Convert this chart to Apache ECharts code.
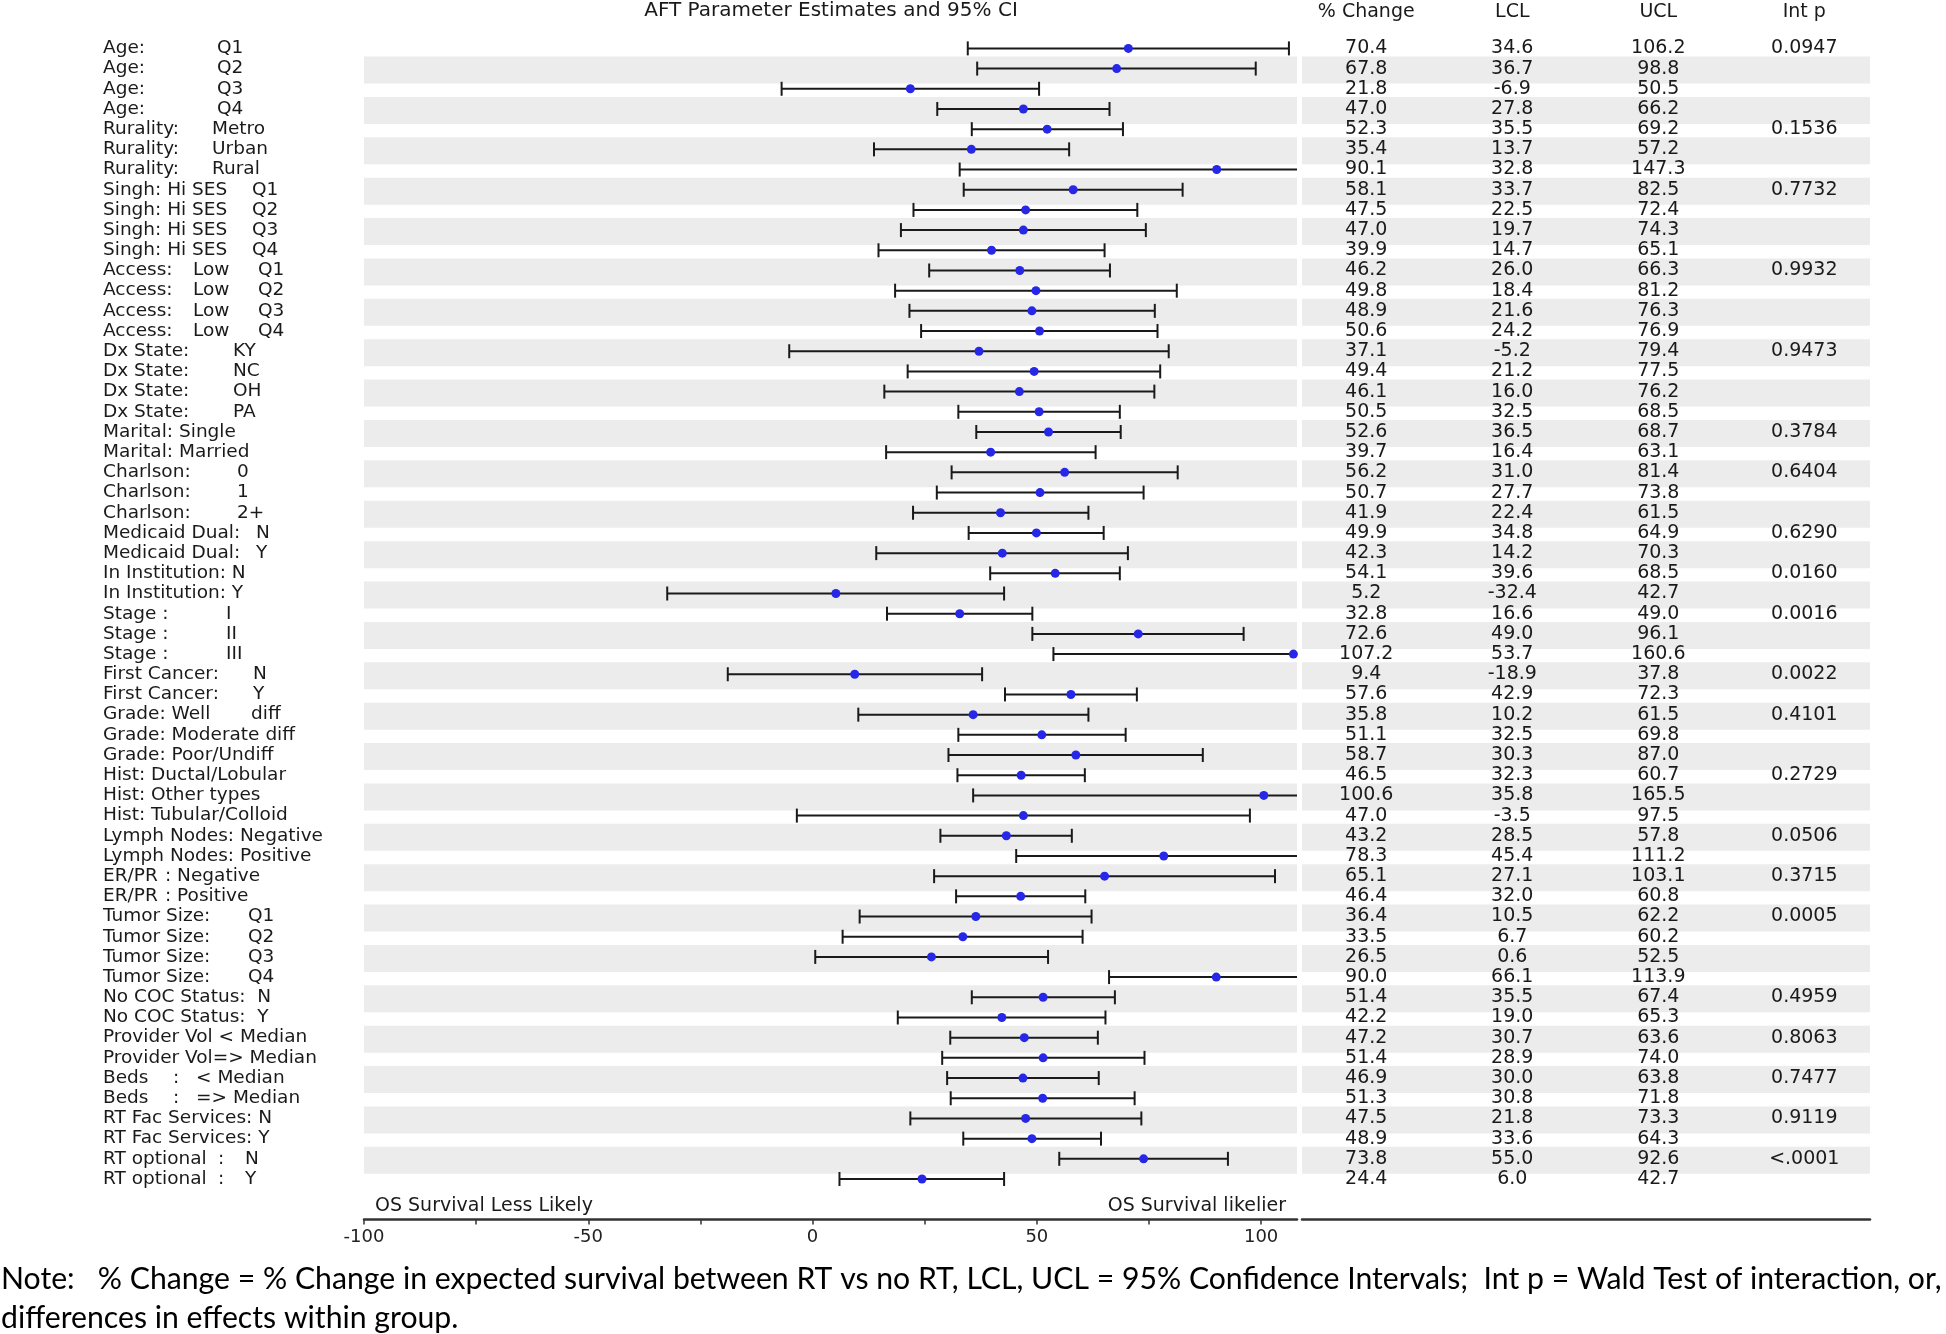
<!DOCTYPE html>
<html>
<head>
<meta charset="utf-8">
<script src="https://cdn.jsdelivr.net/npm/echarts@6/dist/echarts.min.js"></script>
<style>
  html, body { margin: 0; padding: 0; background: #fff; }
  #chart { width: 1946px; height: 1334px; }
</style>
</head>
<body>
<div id="chart"></div>
<script>
// row labels, '\t' marks a padded column in the original SAS label
const labels = [
  'Age:\tQ1', 'Age:\tQ2', 'Age:\tQ3', 'Age:\tQ4',
  'Rurality:\tMetro', 'Rurality:\tUrban', 'Rurality:\tRural',
  'Singh: Hi SES\tQ1', 'Singh: Hi SES\tQ2', 'Singh: Hi SES\tQ3', 'Singh: Hi SES\tQ4',
  'Access:\tLow\tQ1', 'Access:\tLow\tQ2', 'Access:\tLow\tQ3', 'Access:\tLow\tQ4',
  'Dx State:\tKY', 'Dx State:\tNC', 'Dx State:\tOH', 'Dx State:\tPA',
  'Marital:\tSingle', 'Marital:\tMarried',
  'Charlson:\t0', 'Charlson:\t1', 'Charlson:\t2+',
  'Medicaid Dual:\tN', 'Medicaid Dual:\tY',
  'In Institution: N', 'In Institution: Y',
  'Stage :\tI', 'Stage :\tII', 'Stage :\tIII',
  'First Cancer:\tN', 'First Cancer:\tY',
  'Grade: Well\tdiff', 'Grade: Moderate diff', 'Grade: Poor/Undiff',
  'Hist: Ductal/Lobular', 'Hist: Other types', 'Hist: Tubular/Colloid',
  'Lymph Nodes: Negative', 'Lymph Nodes: Positive',
  'ER/PR\t: Negative', 'ER/PR\t: Positive',
  'Tumor Size:\tQ1', 'Tumor Size:\tQ2', 'Tumor Size:\tQ3', 'Tumor Size:\tQ4',
  'No COC Status:  N', 'No COC Status:  Y',
  'Provider Vol < Median', 'Provider Vol=> Median',
  'Beds\t:\t< Median', 'Beds\t:\t=> Median',
  'RT Fac Services: N', 'RT Fac Services: Y',
  'RT optional\t:\tN', 'RT optional\t:\tY'
];

const pctChange = [70.4, 67.8, 21.8, 47.0, 52.3, 35.4, 90.1, 58.1, 47.5, 47.0, 39.9,
  46.2, 49.8, 48.9, 50.6, 37.1, 49.4, 46.1, 50.5, 52.6, 39.7, 56.2, 50.7, 41.9,
  49.9, 42.3, 54.1, 5.2, 32.8, 72.6, 107.2, 9.4, 57.6, 35.8, 51.1, 58.7,
  46.5, 100.6, 47.0, 43.2, 78.3, 65.1, 46.4, 36.4, 33.5, 26.5, 90.0,
  51.4, 42.2, 47.2, 51.4, 46.9, 51.3, 47.5, 48.9, 73.8, 24.4];

const lcl = [34.6, 36.7, -6.9, 27.8, 35.5, 13.7, 32.8, 33.7, 22.5, 19.7, 14.7,
  26.0, 18.4, 21.6, 24.2, -5.2, 21.2, 16.0, 32.5, 36.5, 16.4, 31.0, 27.7, 22.4,
  34.8, 14.2, 39.6, -32.4, 16.6, 49.0, 53.7, -18.9, 42.9, 10.2, 32.5, 30.3,
  32.3, 35.8, -3.5, 28.5, 45.4, 27.1, 32.0, 10.5, 6.7, 0.6, 66.1,
  35.5, 19.0, 30.7, 28.9, 30.0, 30.8, 21.8, 33.6, 55.0, 6.0];

const ucl = [106.2, 98.8, 50.5, 66.2, 69.2, 57.2, 147.3, 82.5, 72.4, 74.3, 65.1,
  66.3, 81.2, 76.3, 76.9, 79.4, 77.5, 76.2, 68.5, 68.7, 63.1, 81.4, 73.8, 61.5,
  64.9, 70.3, 68.5, 42.7, 49.0, 96.1, 160.6, 37.8, 72.3, 61.5, 69.8, 87.0,
  60.7, 165.5, 97.5, 57.8, 111.2, 103.1, 60.8, 62.2, 60.2, 52.5, 113.9,
  67.4, 65.3, 63.6, 74.0, 63.8, 71.8, 73.3, 64.3, 92.6, 42.7];

const intP = ['0.0947', '', '', '', '0.1536', '', '', '0.7732', '', '', '',
  '0.9932', '', '', '', '0.9473', '', '', '', '0.3784', '', '0.6404', '', '',
  '0.6290', '', '0.0160', '', '0.0016', '', '', '0.0022', '', '0.4101', '', '',
  '0.2729', '', '', '0.0506', '', '0.3715', '', '0.0005', '', '', '',
  '0.4959', '', '0.8063', '', '0.7477', '', '0.9119', '', '<.0001', ''];

const headers = ['% Change', 'LCL', 'UCL', 'Int p'];
const tickValues = [-100, -75, -50, -25, 0, 25, 50, 75, 100];
const tickLabels = [-100, -50, 0, 50, 100];

// column stops (px from label start) for the padded labels
const tabStops = {
  'Age:': [114], 'Rurality:': [109], 'Singh: Hi SES': [149], 'Access:': [90, 155],
  'Dx State:': [130], 'Marital:': [76], 'Charlson:': [134], 'Medicaid Dual:': [153],
  'Stage :': [123], 'First Cancer:': [150], 'Grade: Well': [148], 'ER/PR': [62],
  'Tumor Size:': [145], 'Beds': [70, 93], 'RT optional': [115, 142]
};

const FONT = 'DejaVu Sans';
const TXT = '#1a1a1a';
const LBL = 18.5;
const NUM = 19;
const rich = { t: { fontFamily: FONT, fontSize: LBL, color: TXT } };

function fmtLabel(s) {
  const parts = s.split('\t');
  if (parts.length === 1) return '{t|' + s + '}';
  const stops = tabStops[parts[0]];
  let out = '', prev = 0;
  for (let i = 0; i < parts.length - 1; i++) {
    const w = stops[i] - prev;
    const key = 'w' + w;
    if (!rich[key]) rich[key] = { width: w, fontFamily: FONT, fontSize: LBL, color: TXT };
    out += '{' + key + '|' + parts[i] + '}';
    prev = stops[i];
  }
  return out + '{t|' + parts[parts.length - 1] + '}';
}
labels.forEach(fmtLabel);

const rows = labels.map((l, i) => i);
const bandRows = rows.filter(i => i % 2 === 1);

// table cells: [column, row, text]
const cellCol = [], cellRow = [], cellText = [];
rows.forEach(i => {
  [pctChange[i].toFixed(1), lcl[i].toFixed(1), ucl[i].toFixed(1), intP[i]].forEach((t, c) => {
    if (!t) return;
    cellCol.push(c); cellRow.push(i); cellText.push(t);
  });
});

function bandItem(params, api) {
  const cs = params.coordSys;
  const y = api.coord([0, api.value(1)])[1];
  return {
    type: 'rect', silent: true,
    shape: { x: cs.x, y: y - 12, width: cs.width, height: 27 },
    style: { fill: '#ececec' }
  };
}

function ciItem(params, api) {
  const cs = params.coordSys;
  const r = api.value(3);
  const y = api.coord([0, r])[1];
  let x0 = api.coord([api.value(1), r])[0];
  let x1 = api.coord([api.value(2), r])[0];
  const left = cs.x, right = cs.x + cs.width;
  const cap0 = x0 >= left, cap1 = x1 <= right;
  x0 = Math.max(x0, left);
  x1 = Math.min(x1, right);
  const st = { stroke: '#1a1a1a', lineWidth: 2 };
  const kids = [{ type: 'line', shape: { x1: x0, y1: y, x2: x1, y2: y }, style: st }];
  if (cap0) kids.push({ type: 'line', shape: { x1: x0, y1: y - 7, x2: x0, y2: y + 7 }, style: st });
  if (cap1) kids.push({ type: 'line', shape: { x1: x1, y1: y - 7, x2: x1, y2: y + 7 }, style: st });
  return { type: 'group', children: kids };
}

function cellItem(params, api) {
  const p = api.coord([api.value(0), api.value(1)]);
  return {
    type: 'text', x: p[0], y: p[1],
    style: {
      text: cellText[params.dataIndex], fill: TXT,
      fontFamily: FONT, fontSize: NUM, align: 'center', verticalAlign: 'middle'
    }
  };
}

const chart = echarts.init(document.getElementById('chart'));

const txt = (size, extra) => Object.assign({ fontFamily: FONT, fontSize: size, fill: TXT }, extra);

const option = {
  animation: false,
  backgroundColor: '#fff',
  grid: [
    { left: 364, top: 38.3, width: 933, height: 1150.8, outerBoundsMode: 'none' },
    { left: 1302, top: 38.3, width: 568, height: 1150.8, outerBoundsMode: 'none' }
  ],
  xAxis: [
    {
      gridIndex: 0, type: 'value', min: -100, max: 108, position: 'bottom', offset: 30.5,
      axisLine: { show: true, onZero: false, lineStyle: { color: '#333', width: 2.5 } },
      axisTick: { show: true, customValues: tickValues, length: 5, lineStyle: { color: '#333', width: 1.5 } },
      axisLabel: { customValues: tickLabels, margin: 9, fontFamily: FONT, fontSize: 18, color: '#222' },
      splitLine: { show: false }
    },
    {
      gridIndex: 1, type: 'value', min: -0.44, max: 3.45, position: 'top',
      axisLine: { show: false }, axisTick: { show: false }, splitLine: { show: false },
      axisLabel: {
        customValues: headers.map((h, i) => i), formatter: v => headers[Math.round(v)],
        margin: 17, fontFamily: FONT, fontSize: NUM, color: TXT
      }
    },
    {
      gridIndex: 1, type: 'value', min: -0.44, max: 3.45, position: 'bottom', offset: 30.5,
      axisLine: { show: true, onZero: false, lineStyle: { color: '#333', width: 2.5 } },
      axisTick: { show: false }, axisLabel: { show: false }, splitLine: { show: false }
    }
  ],
  yAxis: [
    {
      gridIndex: 0, type: 'category', data: labels, inverse: true,
      axisLine: { show: false }, axisTick: { show: false }, splitLine: { show: false },
      axisLabel: { interval: 0, align: 'left', margin: 261, formatter: fmtLabel, rich: rich }
    },
    { gridIndex: 1, type: 'category', data: labels, inverse: true, show: false }
  ],
  series: [
    {
      type: 'custom', xAxisIndex: 0, yAxisIndex: 0, silent: true, z: 1,
      data: bandRows.map(i => [0, i]), renderItem: bandItem
    },
    {
      type: 'custom', xAxisIndex: 1, yAxisIndex: 1, silent: true, z: 1,
      data: bandRows.map(i => [0, i]), renderItem: bandItem
    },
    {
      type: 'custom', xAxisIndex: 0, yAxisIndex: 0, silent: true, z: 3,
      encode: { x: [1, 2], y: 3 },
      data: rows.map(i => [pctChange[i], lcl[i], ucl[i], i]), renderItem: ciItem
    },
    {
      type: 'scatter', xAxisIndex: 0, yAxisIndex: 0, z: 4,
      symbol: 'circle', symbolSize: 9,
      itemStyle: { color: '#2727e8', opacity: 1 },
      data: rows.map(i => [pctChange[i], i])
    },
    {
      type: 'custom', xAxisIndex: 1, yAxisIndex: 1, silent: true, z: 3,
      encode: { x: 0, y: 1 },
      data: cellCol.map((c, k) => [c, cellRow[k]]), renderItem: cellItem
    }
  ],
  graphic: [
    { type: 'text', x: 831, y: 11, style: txt(20, { text: 'AFT Parameter Estimates and 95% CI', align: 'center', verticalAlign: 'middle' }) },
    { type: 'text', x: 375, y: 1206, style: txt(19, { text: 'OS Survival Less Likely', align: 'left', verticalAlign: 'middle' }) },
    { type: 'text', x: 1286, y: 1206, style: txt(19, { text: 'OS Survival likelier', align: 'right', verticalAlign: 'middle' }) },
    { type: 'text', x: 1, y: 1279, style: { text: 'Note:   % Change = % Change in expected survival between RT vs no RT, LCL, UCL = 95% Confidence Intervals;  Int p = Wald Test of interaction, or,', fontFamily: 'Lato', fontSize: 30.2, fill: '#000', verticalAlign: 'middle' } },
    { type: 'text', x: 1, y: 1318, style: { text: 'differences in effects within group.', fontFamily: 'Lato', fontSize: 30.2, fill: '#000', verticalAlign: 'middle' } }
  ]
};

chart.setOption(option);
</script>
</body>
</html>
